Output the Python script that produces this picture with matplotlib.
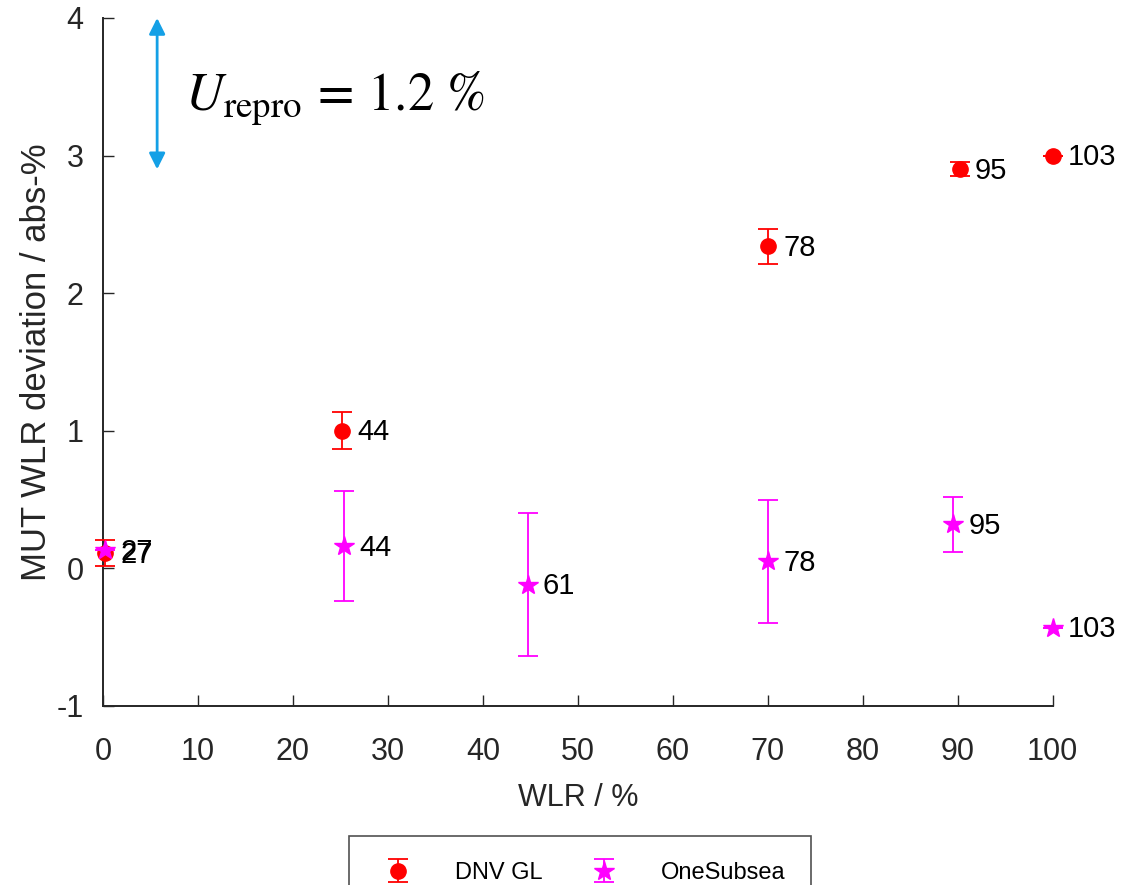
import matplotlib.pyplot as plt

plt.rcParams['font.family'] = ['Liberation Sans', 'DejaVu Sans']
plt.rcParams['mathtext.fontset'] = 'stix'
plt.rcParams['axes.unicode_minus'] = False

# DNV GL points
dnv_wlr = [0.2, 25.2, 70.0, 90.2, 100.0]
dnv_dev = [0.11, 1.00, 2.34, 2.90, 3.00]
dnv_err = [0.095, 0.135, 0.125, 0.05, 0.0]
dnv_lab = ["27", "44", "78", "95", "103"]

# OneSubsea points
osb_wlr = [0.2, 25.4, 44.7, 70.0, 89.5, 100.0]
osb_dev = [0.13, 0.16, -0.12, 0.05, 0.32, -0.43]
osb_err = [0.0, 0.40, 0.52, 0.45, 0.20, 0.0]
osb_lab = ["27", "44", "61", "78", "95", "103"]

u_repro = 1.2
arrow_x = 5.7

fig = plt.figure(figsize=(11.47, 8.85), dpi=100)
ax = fig.add_axes([0.0898, 0.2023, 0.828, 0.7774])

ax.errorbar(dnv_wlr, dnv_dev, yerr=dnv_err, fmt="o", color="red", ms=11,
            capsize=7, elinewidth=1.3, capthick=1.3, label="DNV GL",
            clip_on=False, zorder=3)
ax.errorbar(osb_wlr, osb_dev, yerr=osb_err, fmt="*", color="magenta", ms=15,
            capsize=7, elinewidth=1.3, capthick=1.3, label="OneSubsea",
            clip_on=False, zorder=4)

for x, y, t in zip(dnv_wlr, dnv_dev, dnv_lab):
    ax.annotate(t, (x, y), xytext=(11, -1), textcoords="offset points",
                va="center", ha="left", fontsize=21, color="black")
for x, y, t in zip(osb_wlr, osb_dev, osb_lab):
    ax.annotate(t, (x, y), xytext=(11, -1), textcoords="offset points",
                va="center", ha="left", fontsize=21, color="black")

# reproducibility arrow
top = 4.0
ax.annotate("", xy=(arrow_x, top), xytext=(arrow_x, top - u_repro + 0.1),
            arrowprops=dict(arrowstyle="<|-|>", color="#14a0e6", lw=2,
                            mutation_scale=24, shrinkA=0, shrinkB=0))
ax.text(8.6, 3.42, r"$U_{\mathrm{repro}}\,=\,1.2\ \%$", fontsize=38,
        va="center", ha="left")

ax.set_xlim(0, 100)
ax.set_ylim(-1, 4)
ax.set_xticks(range(0, 101, 10))
ax.set_yticks(range(-1, 5))
for s in ["top", "right"]:
    ax.spines[s].set_visible(False)
for s in ["left", "bottom"]:
    ax.spines[s].set_linewidth(1.4)
    ax.spines[s].set_color("#262626")
ax.tick_params(direction="in", length=8, width=1, colors="#262626",
               labelsize=22)
ax.tick_params(axis="x", pad=22)
ax.tick_params(axis="y", pad=14)

ax.set_xlabel("WLR / %", fontsize=22, color="#262626", labelpad=12)
ax.set_ylabel("MUT WLR deviation / abs-%", fontsize=25, color="#262626")
ax.yaxis.set_label_coords(-0.053, 0.5)

leg = fig.legend(loc="upper left", bbox_to_anchor=(0.304, 0.0555), ncol=2,
                 fontsize=17, frameon=True, fancybox=False, edgecolor="#262626",
                 borderaxespad=0, columnspacing=1.6, handletextpad=1.4,
                 borderpad=1.1, handlelength=2)
leg.get_frame().set_linewidth(1.2)

fig.savefig("out.png", dpi=100)
